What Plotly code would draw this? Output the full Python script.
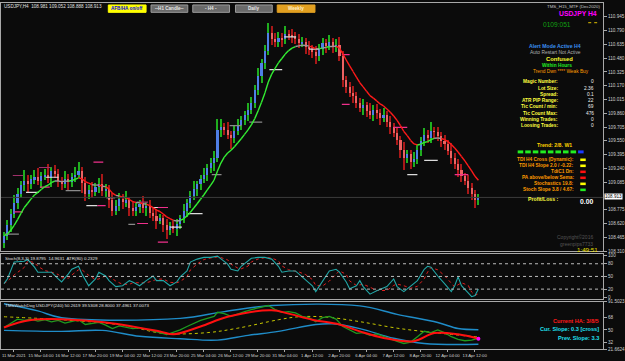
import plotly.graph_objects as go

W, H = 625, 361
FONT = "Liberation Sans"

def px(x):
    return x / W

def py(y):
    return 1 - y / H

# ---------------- DATA ----------------
closes = [
    108.48, 108.60, 108.73, 108.85, 108.95, 109.05, 109.10, 109.06, 109.12, 109.14,
    109.10, 109.15, 109.17, 109.13, 109.21, 109.18, 109.10, 109.06, 109.12, 109.09,
    109.14, 109.17, 109.21, 109.08, 108.95, 109.00, 108.97, 109.03, 109.06, 108.98,
    109.01, 108.88, 108.76, 108.82, 108.90, 108.86, 108.88, 108.80, 108.76, 108.81,
    108.84, 108.79, 108.82, 108.74, 108.70, 108.65, 108.68, 108.60, 108.55, 108.59,
    108.56, 108.62, 108.68, 108.76, 108.85, 108.93, 109.01, 109.06, 109.12, 109.17,
    109.24, 109.30, 109.36, 109.67, 109.70, 109.67, 109.62, 109.58, 109.66, 109.73,
    109.78, 109.84, 109.90, 109.98, 110.12, 110.28, 110.42, 110.56, 110.76, 110.70,
    110.66, 110.71, 110.69, 110.75, 110.74, 110.72, 110.69, 110.65, 110.66, 110.61,
    110.58, 110.55, 110.50, 110.58, 110.65, 110.62, 110.66, 110.61, 110.63, 110.50,
    110.23, 110.15, 110.09, 110.05, 109.98, 109.92, 109.95, 109.88, 109.84, 109.90,
    109.86, 109.81, 109.84, 109.76, 109.70, 109.64, 109.56, 109.45, 109.36, 109.40,
    109.31, 109.34, 109.45, 109.55, 109.62, 109.58, 109.66, 109.65, 109.60, 109.55,
    109.51, 109.44, 109.36, 109.29, 109.22, 109.15, 109.10, 109.02, 108.95, 108.88,
    108.91,
]
first_open = 108.40
upper_wick = [
    0.04, 0.06, 0.05, 0.09, 0.07, 0.05, 0.12, 0.06, 0.04, 0.08,
    0.10, 0.05, 0.06, 0.12, 0.04, 0.07, 0.05, 0.04, 0.09, 0.06,
    0.05, 0.08, 0.10, 0.04, 0.06, 0.05, 0.09, 0.04, 0.07, 0.12,
    0.05, 0.04, 0.08, 0.06, 0.06, 0.05, 0.10, 0.04, 0.07, 0.05,
    0.05, 0.09, 0.04, 0.06, 0.05, 0.08, 0.05, 0.04, 0.07, 0.05,
    0.06, 0.05, 0.04, 0.08, 0.05, 0.06, 0.09, 0.04, 0.05, 0.07,
    0.05, 0.06, 0.08, 0.12, 0.10, 0.05, 0.09, 0.04, 0.06, 0.07,
    0.05, 0.05, 0.08, 0.06, 0.06, 0.09, 0.05, 0.07, 0.12, 0.08,
    0.06, 0.06, 0.05, 0.09, 0.05, 0.07, 0.05, 0.06, 0.06, 0.05,
    0.06, 0.05, 0.07, 0.06, 0.06, 0.05, 0.08, 0.05, 0.07, 0.09,
    0.06, 0.05, 0.06, 0.08, 0.05, 0.05, 0.07, 0.04, 0.09, 0.05,
    0.06, 0.05, 0.08, 0.04, 0.07, 0.05, 0.06, 0.04, 0.09, 0.05,
    0.05, 0.08, 0.06, 0.04, 0.07, 0.05, 0.10, 0.04, 0.06, 0.05,
    0.06, 0.05, 0.08, 0.05, 0.06, 0.07, 0.04, 0.06, 0.05, 0.05,
    0.04,
]
lower_wick = [
    0.06, 0.05, 0.08, 0.05, 0.07, 0.04, 0.06, 0.09, 0.05, 0.06,
    0.05, 0.08, 0.04, 0.06, 0.10, 0.05, 0.07, 0.06, 0.04, 0.09,
    0.06, 0.05, 0.04, 0.12, 0.08, 0.05, 0.06, 0.04, 0.07, 0.05,
    0.06, 0.09, 0.05, 0.04, 0.06, 0.08, 0.05, 0.10, 0.06, 0.05,
    0.07, 0.05, 0.08, 0.06, 0.05, 0.09, 0.04, 0.08, 0.10, 0.06,
    0.05, 0.08, 0.06, 0.05, 0.07, 0.06, 0.05, 0.08, 0.06, 0.05,
    0.07, 0.05, 0.09, 0.05, 0.08, 0.06, 0.05, 0.12, 0.06, 0.05,
    0.06, 0.05, 0.07, 0.05, 0.06, 0.05, 0.08, 0.06, 0.05, 0.07,
    0.06, 0.05, 0.08, 0.05, 0.06, 0.07, 0.05, 0.06, 0.05, 0.08,
    0.06, 0.07, 0.09, 0.05, 0.06, 0.08, 0.05, 0.07, 0.06, 0.05,
    0.08, 0.06, 0.05, 0.07, 0.06, 0.05, 0.08, 0.06, 0.05, 0.07,
    0.06, 0.08, 0.05, 0.06, 0.07, 0.05, 0.06, 0.09, 0.14, 0.06,
    0.08, 0.06, 0.05, 0.07, 0.06, 0.05, 0.06, 0.08, 0.05, 0.07,
    0.06, 0.05, 0.07, 0.06, 0.08, 0.06, 0.05, 0.07, 0.06, 0.09,
    0.05,
]
current_price = 108.913

# pivot / level dashes: (bar start, bar end, price, kind)
level_dashes = [
    (0.3, 4.4, 108.50, "g"), (2.6, 5.6, 109.16, "m"), (3.0, 5.6, 108.75, "p"),
    (6.5, 10.3, 108.97, "w"), (10.3, 13.8, 109.25, "m"), (10.6, 13.5, 109.03, "p"),
    (12.3, 16.1, 109.14, "w"), (18.2, 22.6, 108.99, "g"), (26.4, 29.3, 109.31, "p"),
    (24.3, 27.6, 108.82, "w"), (27.6, 30.0, 108.82, "p"), (30.2, 32.8, 108.91, "w"),
    (36.7, 38.7, 108.61, "g"), (39.3, 42.5, 108.62, "p"), (39.3, 42.5, 108.86, "m"),
    (43.7, 46.9, 108.80, "w"), (45.4, 48.4, 108.41, "p"), (45.4, 48.4, 108.80, "p"),
    (49.0, 52.5, 108.58, "w"), (54.3, 58.6, 108.73, "w"), (61.3, 64.2, 109.17, "g"),
    (66.6, 70.1, 109.72, "g"), (72.4, 76.2, 109.76, "g"), (78.3, 82.1, 110.35, "w"),
    (82.7, 86.2, 110.72, "w"), (90.0, 93.0, 110.58, "w"), (99.7, 102.0, 109.96, "p"),
    (99.7, 102.0, 110.52, "p"), (115.0, 119.0, 109.70, "p"), (119.0, 122.0, 109.17, "w"),
    (124.0, 128.0, 109.33, "w"), (133.0, 137.0, 109.17, "p"),
]

price_ticks = [110.945, 110.790, 110.635, 110.480, 110.325, 110.170, 110.015,
               109.860, 109.705, 109.550, 109.395, 109.240, 109.085, 108.775,
               108.620, 108.465, 108.310]

date_labels = ["11 Mar 2021", "15 Mar 04:00", "16 Mar 12:00", "17 Mar 20:00",
               "19 Mar 04:00", "22 Mar 12:00", "23 Mar 20:00", "25 Mar 04:00",
               "26 Mar 12:00", "29 Mar 20:00", "31 Mar 04:00", "1 Apr 12:00",
               "2 Apr 20:00", "6 Apr 04:00", "7 Apr 12:00", "8 Apr 20:00",
               "12 Apr 04:00", "13 Apr 12:00"]
date_label_bars = [2.9 + 8 * k for k in range(len(date_labels))]

# Stochastic main line (bar index, value)
stoch_bar = [0, 1, 3, 6, 7, 9, 10, 12, 14, 16, 17, 19, 20, 22, 23, 25, 27, 28, 30, 31,
             33, 35, 37, 38, 40, 42, 44, 45, 47, 49, 51, 52, 54, 55, 57, 59, 61, 63, 64, 66,
             67, 69, 70, 72, 73, 75, 77, 79, 81, 82, 84, 86, 87, 89, 91, 92, 94, 96, 98, 99,
             101, 102, 104, 105, 106, 108, 110, 113, 115, 116, 118, 120, 122, 124, 125, 126, 128, 130, 132, 133,
             134, 135, 137, 138, 139, 140]
stoch_k = [33, 44, 84, 86, 90, 72, 60, 60, 60, 44, 37, 56, 67, 74, 56, 28, 44, 60, 51, 40,
           26, 28, 40, 37, 28, 40, 51, 40, 40, 28, 37, 49, 63, 84, 91, 95, 95, 98, 91, 79,
           67, 63, 74, 86, 93, 95, 95, 91, 74, 60, 63, 63, 56, 44, 28, 14, 40, 63, 67, 60,
           37, 21, 28, 40, 26, 8, 16, 26, 44, 26, 14, 26, 40, 67, 74, 72, 51, 33, 14, 28,
           49, 28, 9, 2, 5, 20]

# TDI lines (bar index, value)
tdi_up_bar = [0, 10, 17, 52, 65, 79, 105, 116, 128, 134, 140]
tdi_up = [88.6, 78.0, 68.0, 67.0, 77.0, 86.0, 85.5, 73.0, 61.0, 52.0, 50.3]
tdi_lo_bar = [0, 17, 29, 40, 52, 63, 72, 81, 92, 97, 105, 115, 124, 140]
tdi_lo = [49.3, 47.8, 49.3, 40.6, 37.0, 35.0, 42.0, 47.8, 58.0, 59.0, 52.0, 37.7, 30.0, 28.8]
tdi_mid_bar = [0, 17, 35, 47, 60, 69, 81, 87, 95, 105, 116, 128, 140]
tdi_mid = [69.4, 65.0, 57.0, 45.0, 46.0, 52.6, 65.0, 69.4, 69.0, 62.2, 52.6, 45.4, 39.5]
tdi_sig_bar = [0, 8, 28, 46, 50, 58, 66, 79, 84, 91, 99, 105, 112, 121, 127, 134, 140]
tdi_sig = [53.6, 64.7, 62.2, 47.8, 43.5, 55.0, 69.4, 79.0, 74.0, 65.0, 58.0, 47.8, 38.2, 33.4, 45.4, 43.5, 37.0]
tdi_rsi_bar = [0, 2, 4, 6, 8, 10, 12, 14, 16, 18, 20, 22, 24, 26, 28, 30, 32, 34, 36, 38,
               40, 42, 44, 46, 48, 50, 52, 54, 56, 58, 60, 62, 63, 65, 67, 69, 71, 73, 75, 77,
               78, 80, 82, 84, 86, 88, 90, 92, 94, 96, 98, 100, 102, 104, 106, 108, 110, 112, 114, 116,
               118, 120, 122, 124, 126, 128, 130, 132, 134, 136, 138, 140]
tdi_rsi = [53.6, 60, 66, 64, 66, 63, 65, 62, 64, 60, 63, 65, 58, 60, 61, 57, 52, 56, 54, 52,
           53, 51, 48, 46, 43, 46, 50, 55, 60, 64, 67, 70, 76, 74, 70, 74, 77, 80, 82, 84,
           86, 80, 76, 77, 75, 70, 68, 62, 68, 70, 66, 55, 50, 45, 46, 42, 44, 40, 36, 33,
           30, 32, 40, 48, 46, 50, 46, 40, 36, 34, 35, 37.5]

info_labels = ["Magic Number:", "Lot Size:", "Spread:", "ATR PIP Range:",
               "Tic Count / min:", "Tic Count Max:", "Winning Trades:", "Loosing Trades:"]
info_values = ["0", "2.36", "0.1", "22", "69", "476", "0", "0"]
signal_labels = ["TDI H4 Cross (Dynamic):", "TDI H4 Slope 2.0 / -0.22:", "TdiC1 Dn:",
                 "PA above/below Sema:", "Stochastics 19.8:", "Stoch Slope 3.8 / 4.67:"]
signal_states = ["y", "y", "r", "r", "y", "g"]
trend_boxes = ["g", "g", "g", "g", "g", "g", "g", "g", "b"]

# ---------------- BUILD ----------------
n = min(len(closes), len(upper_wick), len(lower_wick))
closes = closes[:n]
opens = [first_open] + closes[:-1]
highs = [max(o, c) + uw for o, c, uw in zip(opens, closes, upper_wick[:n])]
lows = [min(o, c) - lw for o, c, lw in zip(opens, closes, lower_wick[:n])]
bars = list(range(n))
is_up = [c >= o for o, c in zip(opens, closes)]

BG = "#0b0b0b"
FRAME = "#a8a8a8"
XR = [-0.88, 176.8]
XD = [0, 606 / W]

fig = go.Figure()

# wicks
fig.add_trace(go.Bar(
    x=bars, y=[h - l for h, l in zip(highs, lows)], base=lows, width=0.3,
    marker=dict(color=["#1fae1f" if u else "#a81818" for u in is_up], line_width=0),
    xaxis="x", yaxis="y", showlegend=False, hoverinfo="skip"))
# bodies
fig.add_trace(go.Bar(
    x=bars, y=[max(abs(c - o), 0.01) for o, c in zip(opens, closes)],
    base=[min(o, c) for o, c in zip(opens, closes)], width=0.62,
    marker=dict(color=["#4f7fe6" if u else "#ec6262" for u in is_up], line_width=0),
    xaxis="x", yaxis="y", showlegend=False, hoverinfo="skip"))

# level dashes
dash_col = {"w": "#dcdcdc", "g": "#8a8a8a", "p": "#f0308c", "m": "#a0306a"}
for kind in dash_col:
    xs, ys = [], []
    for b0, b1, p, k in level_dashes:
        if k == kind:
            xs += [b0, b1, None]
            ys += [p, p, None]
    fig.add_trace(go.Scatter(x=xs, y=ys, mode="lines", line=dict(color=dash_col[kind], width=1.2),
                             xaxis="x", yaxis="y", showlegend=False, hoverinfo="skip"))

# moving average coloured by slope
alpha = 2 / (10 + 1)
ma = [closes[0]]
for c in closes[1:]:
    ma.append(ma[-1] + alpha * (c - ma[-1]))
segs = {"up": ([], []), "dn": ([], []), "fl": ([], [])}
for i in range(1, n):
    d = ma[i] - ma[i - 1]
    k = "up" if d > 0.008 else ("dn" if d < -0.008 else "fl")
    segs[k][0].extend([i - 1, i, None])
    segs[k][1].extend([ma[i - 1], ma[i], None])
ma_col = {"up": "#33ee33", "dn": "#ff1a1a", "fl": "#9a9a9a"}
for k, (xs, ys) in segs.items():
    fig.add_trace(go.Scatter(x=xs, y=ys, mode="lines", line=dict(color=ma_col[k], width=1.4),
                             xaxis="x", yaxis="y", showlegend=False, hoverinfo="skip"))

# stochastic
stoch_d = []
for i in range(len(stoch_k)):
    w = stoch_k[max(0, i - 2):i + 1]
    stoch_d.append(sum(w) / len(w))
fig.add_trace(go.Scatter(x=stoch_bar, y=stoch_d, mode="lines",
                         line=dict(color="#e02020", width=1, dash="dot"),
                         xaxis="x2", yaxis="y2", showlegend=False, hoverinfo="skip"))
fig.add_trace(go.Scatter(x=stoch_bar, y=stoch_k, mode="lines",
                         line=dict(color="#22a6a6", width=1.1),
                         xaxis="x2", yaxis="y2", showlegend=False, hoverinfo="skip"))

# TDI
fig.add_trace(go.Scatter(x=tdi_up_bar, y=tdi_up, mode="lines", line=dict(color="#1f8cc8", width=1.4),
                         line_shape="spline", xaxis="x3", yaxis="y3", showlegend=False, hoverinfo="skip"))
fig.add_trace(go.Scatter(x=tdi_lo_bar, y=tdi_lo, mode="lines", line=dict(color="#1f8cc8", width=1.4),
                         line_shape="spline", xaxis="x3", yaxis="y3", showlegend=False, hoverinfo="skip"))
fig.add_trace(go.Scatter(x=tdi_mid_bar, y=tdi_mid, mode="lines", line=dict(color="#c8c800", width=1, dash="dot"),
                         line_shape="spline", xaxis="x3", yaxis="y3", showlegend=False, hoverinfo="skip"))
fig.add_trace(go.Scatter(x=tdi_rsi_bar, y=tdi_rsi, mode="lines", line=dict(color="#1f9a1f", width=1.3),
                         xaxis="x3", yaxis="y3", showlegend=False, hoverinfo="skip"))
fig.add_trace(go.Scatter(x=tdi_sig_bar, y=tdi_sig, mode="lines", line=dict(color="#ff1010", width=2),
                         line_shape="spline", xaxis="x3", yaxis="y3", showlegend=False, hoverinfo="skip"))
fig.add_trace(go.Scatter(x=[tdi_sig_bar[-1]], y=[tdi_sig[-1]], mode="markers",
                         marker=dict(color="#ff00ff", size=4),
                         xaxis="x3", yaxis="y3", showlegend=False, hoverinfo="skip"))

tickfont = dict(family=FONT, size=4.6, color="#d0d0d0")
axis_common = dict(showgrid=False, zeroline=False, showline=True, mirror=True,
                   linecolor=FRAME, linewidth=1)

fig.update_layout(
    width=W, height=H, margin=dict(l=0, r=0, t=0, b=0),
    paper_bgcolor=BG, plot_bgcolor=BG, barmode="overlay", bargap=0,
    xaxis=dict(domain=XD, range=XR, showticklabels=False, anchor="y", ticks="", **axis_common),
    yaxis=dict(domain=[py(253), py(1)], range=[108.305, 111.10], side="right", anchor="x",
               tickvals=price_ticks, ticktext=[f"{v:.3f}" for v in price_ticks],
               ticks="outside", ticklen=3, tickcolor=FRAME, tickfont=tickfont, **axis_common),
    xaxis2=dict(domain=XD, range=XR, showticklabels=False, anchor="y2", ticks="", **axis_common),
    yaxis2=dict(domain=[py(301), py(256)], range=[-3, 102], side="right", anchor="x2",
                tickvals=[100, 80, 50, 20, 0], ticktext=["100", "80", "50", "20", "0"],
                ticks="outside", ticklen=3, tickcolor=FRAME, tickfont=tickfont, **axis_common),
    xaxis3=dict(domain=XD, range=XR, anchor="y3", tickvals=date_label_bars, ticktext=date_labels,
                tickangle=0, ticks="outside", ticklen=2, tickcolor=FRAME,
                tickfont=dict(family=FONT, size=4.3, color="#d0d0d0"), **axis_common),
    yaxis3=dict(domain=[py(352), py(304)], range=[21.66, 91.505], side="right", anchor="x3",
                tickvals=[91.5023, 68, 50, 32, 21.6624],
                ticktext=["91.5023", "68", "50", "32", "21.6624"],
                ticks="outside", ticklen=3, tickcolor=FRAME, tickfont=tickfont, **axis_common),
)

shapes = []
# current price line
shapes.append(dict(type="line", xref="x domain", yref="y", x0=0, x1=1, y0=current_price, y1=current_price,
                   line=dict(color="#3c3c3c", width=1)))
# stochastic levels
for lv in [80, 50, 20]:
    shapes.append(dict(type="line", xref="x2 domain", yref="y2", x0=0, x1=1, y0=lv, y1=lv,
                       line=dict(color="#bdbdbd", width=1, dash="dot")))

annotations = []

def text(x, y, s, color, size, anchor="left", bold=False, bg=None):
    annotations.append(dict(xref="paper", yref="paper", x=px(x), y=py(y), text=(f"<b>{s}</b>" if bold else s),
                            showarrow=False, xanchor=anchor, yanchor="middle",
                            font=dict(family=FONT, size=size, color=color),
                            bgcolor=bg, borderpad=0))

# title
text(2, 4.5, "USDJPY,H4  108.981 109.052 108.888 108.913", "#e0e0e0", 4.6)
# buttons
buttons = [(108, 146, "AFB/HA on/off", "#ffff00", "#0000ee"),
           (151, 188, "--H1 Candle--", "#6a6a6a", "#e6e6e6"),
           (193, 230, "- H4 -", "#6a6a6a", "#e6e6e6"),
           (236, 273, "Daily", "#6a6a6a", "#e6e6e6"),
           (278, 316, "Weekly", "#e2a021", "#fff0c8")]
for x0, x1, lab, fc, tc in buttons:
    shapes.append(dict(type="rect", xref="paper", yref="paper", x0=px(x0), x1=px(x1), y0=py(10.5), y1=py(3),
                       fillcolor=fc, line=dict(color="#9a9a9a" if fc == "#6a6a6a" else fc, width=1)))
    text((x0 + x1) / 2, 7, lab, tc, 4.6, anchor="center", bold=True)

# right info block
text(604, 5, "TMS_H15_MTF (Dec2020)", "#c8c8c8", 4.4, anchor="right")
text(601, 11.7, "USDJPY H4", "#ff00ff", 6.8, anchor="right", bold=True)
text(560, 23.3, "0109:051", "#12a012", 6.6, anchor="center")
shapes.append(dict(type="line", xref="paper", yref="paper", x0=px(591), x1=px(600), y0=py(21), y1=py(21),
                   line=dict(color="#e0c000", width=1, dash="dot")))
text(558, 45, "Alert Mode Active H4", "#3a8ff0", 5.2, anchor="center", bold=True)
text(558, 51.3, "Auto Restart Not Active", "#b0b0b0", 4.9, anchor="center")
text(562, 58, "Confused", "#ffff30", 5.8, anchor="center", bold=True)
text(560, 64.3, "Within Hours", "#22ee22", 4.8, anchor="center", bold=True)
text(564, 70.7, "Trend Dwn **** Weak Buy", "#ff9c00", 4.8, anchor="center")
for i, (lab, val) in enumerate(zip(info_labels, info_values)):
    yy = 81 + i * 6.33
    text(562, yy, lab, "#ffff40", 4.8, anchor="right", bold=True)
    text(598, yy, val, "#f0f0f0", 4.8, anchor="right")

text(557, 145, "Trend: 2/8. W1", "#ffd000", 5.2, anchor="center", bold=True)
box_col = {"g": "#22ee22", "b": "#1a3aff", "y": "#ffff00", "r": "#ff1010"}
for j, b in enumerate(trend_boxes):
    x0 = 520 + j * 7.6
    shapes.append(dict(type="rect", xref="paper", yref="paper", x0=px(x0), x1=px(x0 + 5.6),
                       y0=py(153.5), y1=py(150.5), fillcolor=box_col[b], line=dict(width=0)))
for i, (lab, st) in enumerate(zip(signal_labels, signal_states)):
    yy = 160 + i * 6.1
    text(578, yy, lab, "#ff9a00", 4.8, anchor="right", bold=True)
    shapes.append(dict(type="rect", xref="paper", yref="paper", x0=px(583), x1=px(588.5),
                       y0=py(yy + 1.3), y1=py(yy - 1.3), fillcolor=box_col[st], line=dict(width=0)))
text(563, 200, "Profit/Loss :", "#ffff40", 5.2, anchor="right", bold=True)
text(597, 202, "0.00", "#ffffff", 6.8, anchor="right", bold=True)
text(597, 238, "Copyright©2016", "#555555", 5, anchor="right")
text(597, 245, "greenpips7733", "#555555", 5, anchor="right")
text(602, 250.5, "1:49:51", "#f0e000", 6.2, anchor="right")

# current price box on axis
text(607, 197.5, "108.913", "#000000", 4.6, anchor="left", bg="#ffffff")

# panel titles
text(3, 260, "Stoch(8,3,3) 19.8795  14.9631  ATR(80) 0.2329", "#e0e0e0", 4.4)
text(3, 308, "TMSWatchDog USDJPY(240) 50.2619 39.5308 28.8000 37.4961 37.0073", "#e0e0e0", 4.4)

# TDI right texts
text(603, 323, "Current HA: 3/8/5", "#ff1a1a", 5.6, anchor="right", bold=True)
text(603, 332, "Cur. Slope: 0.3 [cross]", "#20e0f0", 5.6, anchor="right", bold=True)
text(603, 340.5, "Prev. Slope: 3.3", "#20e0f0", 5.6, anchor="right", bold=True)

fig.update_layout(shapes=shapes, annotations=annotations)
fig.write_html("out.html")
